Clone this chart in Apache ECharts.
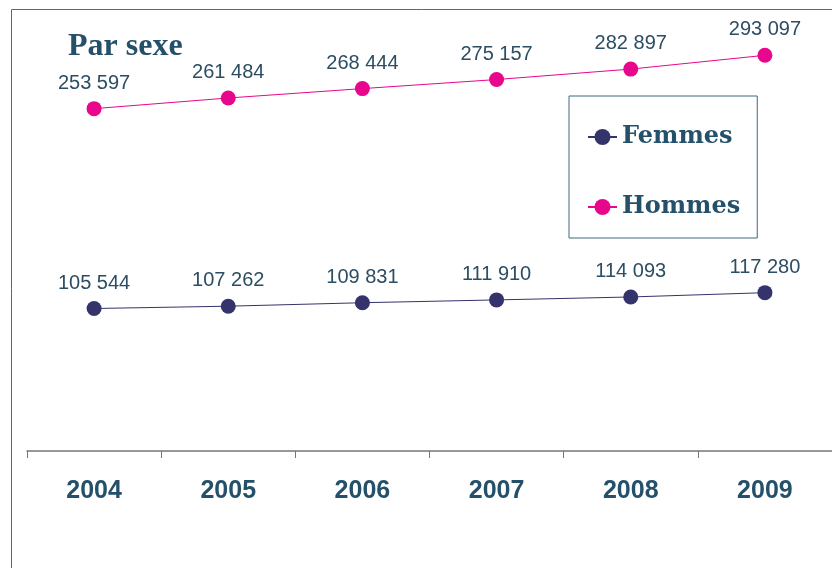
<!DOCTYPE html>
<html><head><meta charset="utf-8">
<script src="https://cdn.jsdelivr.net/npm/echarts@6/dist/echarts.min.js"></script>
<style>html,body{margin:0;padding:0;background:#fff}#c{width:832px;height:568px}</style>
</head><body><div id="c"></div>
<script>
const years = ['2004','2005','2006','2007','2008','2009'];
const femmes = [105544,107262,109831,111910,114093,117280];
const hommes = [253597,261484,268444,275157,282897,293097];
const titleText = 'Par sexe';

const fmt = v => String(v).replace(/\B(?=(\d{3})+(?!\d))/g,' ');
const chart = echarts.init(document.getElementById('c'), null, {renderer:'canvas'});
const labelStyle = {show:true, position:'top', distance:8, fontFamily:'Liberation Sans, Arial', fontSize:20, color:'#2c4d62', formatter:p=>fmt(p.value)};
chart.setOption({
  animation:false,
  backgroundColor:'#fff',
  graphic:[
    {type:'line', shape:{x1:11.5,y1:9.5,x2:832,y2:9.5}, style:{stroke:'#666',lineWidth:1}},
    {type:'line', shape:{x1:11.5,y1:9.5,x2:11.5,y2:568}, style:{stroke:'#666',lineWidth:1}},
    {type:'text', left:68, top:31, style:{text:titleText, font:'bold 32px "Liberation Serif", serif', fill:'#24506a'}}
  ],
  grid:{left:27, top:46, width:807, height:405},
  legend:{
    orient:'vertical', left:569, top:96,
    padding:[29,17,19,18], itemGap:46, itemWidth:29, itemHeight:20,
    borderColor:'#3d6a80', borderWidth:1,
    textStyle:{fontFamily:'"DejaVu Serif", serif', fontWeight:'bold', fontSize:24, color:'#24506a'},
    data:['Femmes','Hommes']
  },
  xAxis:{type:'category', data:years, boundaryGap:true,
    axisLine:{lineStyle:{color:'#777',width:1.5}},
    axisTick:{show:true, inside:false, length:7, lineStyle:{color:'#777'}},
    axisLabel:{fontFamily:'Liberation Sans, Arial', fontWeight:'bold', fontSize:25, color:'#24506a', margin:28}
  },
  yAxis:{type:'value', min:0, max:300000, show:false, splitLine:{show:false}},
  series:[
    {name:'Femmes', type:'line', data:femmes, symbol:'circle', symbolSize:15,
      itemStyle:{color:'#35336b'}, lineStyle:{color:'#35336b', width:1}, label:labelStyle},
    {name:'Hommes', type:'line', data:hommes, symbol:'circle', symbolSize:15,
      itemStyle:{color:'#e8078c'}, lineStyle:{color:'#e8078c', width:1}, label:labelStyle}
  ]
});
</script></body></html>
